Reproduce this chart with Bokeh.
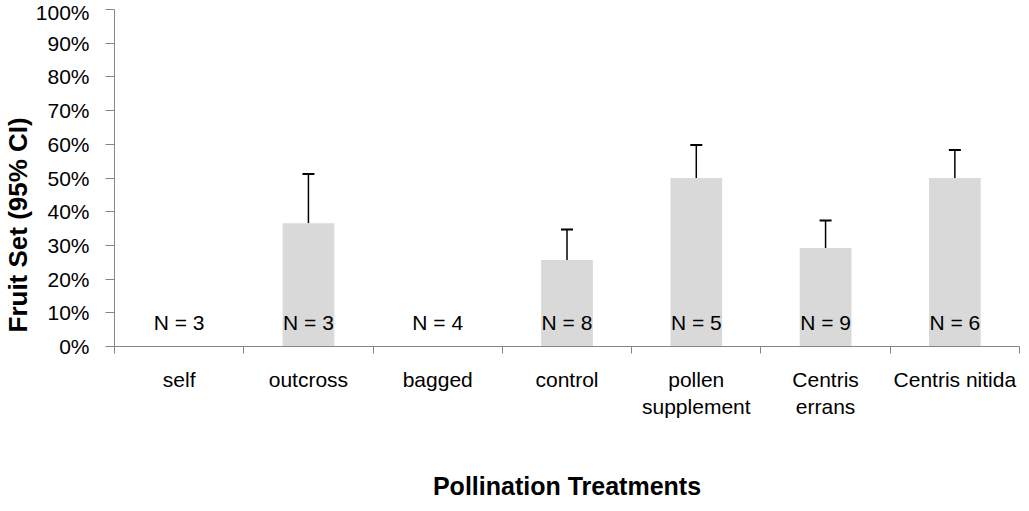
import numpy as np
from bokeh.plotting import figure
from bokeh.models import (ColumnDataSource, Range1d, FixedTicker, NumeralTickFormatter,
                          Whisker, TeeHead, Title)
from bokeh.core.properties import value
from bokeh.embed import file_html
from bokeh.resources import INLINE

categories = ["self", "outcross", "bagged", "control", "pollen\nsupplement",
              "Centris\nerrans", "Centris nitida"]
fruit_set = [0.0, 0.366, 0.0, 0.257, 0.50, 0.292, 0.50]
ci_upper = [0.0, 0.512, 0.0, 0.347, 0.598, 0.374, 0.583]
n_labels = ["N = 3", "N = 3", "N = 4", "N = 8", "N = 5", "N = 9", "N = 6"]
y_ticks = [0.0, 0.1, 0.2, 0.3, 0.4, 0.5, 0.6, 0.7, 0.8, 0.9, 1.0]

FONT = "Liberation Sans"
GRAY = "#868686"

xpos = np.arange(len(categories)) + 0.5
has_err = [u > v for u, v in zip(ci_upper, fruit_set)]

src = ColumnDataSource(dict(x=xpos, top=fruit_set, n=n_labels, zero=[0.0] * len(categories)))
err_src = ColumnDataSource(dict(
    x=[x for x, h in zip(xpos, has_err) if h],
    lower=[v for v, h in zip(fruit_set, has_err) if h],
    upper=[u for u, h in zip(ci_upper, has_err) if h],
))

p = figure(width=1021, height=503, output_backend="svg", toolbar_location=None,
           x_range=Range1d(0, len(categories)), y_range=Range1d(0, 1),
           min_border_left=112, min_border_right=2, min_border_top=9, min_border_bottom=154)
p.outline_line_color = None
p.grid.visible = False
p.background_fill_color = "white"
p.border_fill_color = "white"

p.vbar(x="x", top="top", bottom=0, width=0.4, source=src,
       fill_color="#d9d9d9", line_color=None)

w = Whisker(base="x", lower="lower", upper="upper", source=err_src, dimension="height",
            line_color="black", line_width=1.5,
            upper_head=TeeHead(size=12, line_color="black", line_width=2),
            lower_head=None)
p.add_layout(w)

p.text(x="x", y="zero", text="n", source=src, y_offset=-24,
       text_align="center", text_baseline="middle",
       text_font=value(FONT), text_font_size="21px", text_color="black")

# y axis
ya = p.yaxis[0]
ya.ticker = FixedTicker(ticks=y_ticks)
ya.formatter = NumeralTickFormatter(format="0%")
ya.axis_line_color = GRAY
ya.major_tick_line_color = GRAY
ya.major_tick_out = 9
ya.major_tick_in = 0
ya.minor_tick_line_color = None
ya.major_label_text_font = FONT
ya.major_label_text_font_size = "21px"
ya.major_label_text_color = "black"
ya.major_label_standoff = 16

# x axis
xa = p.xaxis[0]
xa.ticker = FixedTicker(ticks=list(xpos), minor_ticks=list(range(len(categories) + 1)))
xa.major_label_overrides = {float(x): c for x, c in zip(xpos, categories)}
xa.axis_line_color = GRAY
xa.major_tick_line_color = None
xa.major_tick_out = 0
xa.major_tick_in = 0
xa.minor_tick_line_color = GRAY
xa.minor_tick_out = 7
xa.minor_tick_in = 0
xa.major_label_text_font = FONT
xa.major_label_text_font_size = "21px"
xa.major_label_text_color = "black"
xa.major_label_standoff = 14
xa.axis_label = "Pollination Treatments"
xa.axis_label_text_font = FONT
xa.axis_label_text_font_style = "bold"
xa.axis_label_text_font_size = "25px"
xa.axis_label_text_line_height = 1.0
xa.axis_label_text_color = "black"
xa.axis_label_standoff = 51

ytitle = Title(text="Fruit Set (95% CI)", align="left", offset=14, standoff=0,
               text_font=FONT, text_font_style="bold", text_font_size="26px",
               text_line_height=1.0, text_color="black")
p.add_layout(ytitle, "left")

open("out.html", "w").write(file_html(p, INLINE))
